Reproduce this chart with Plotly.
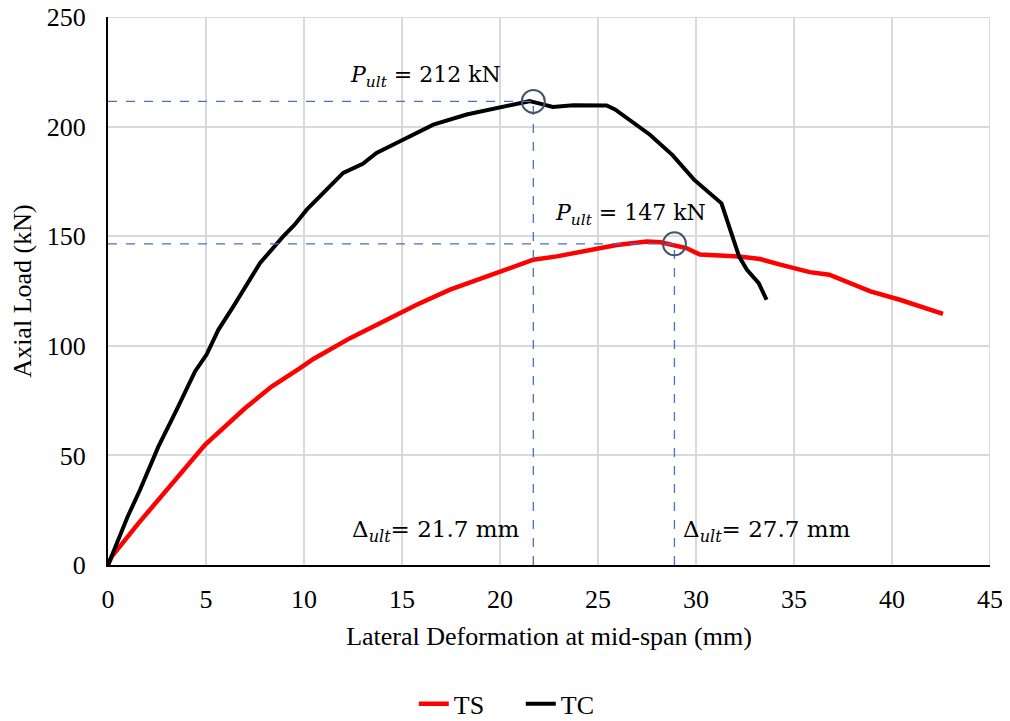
import plotly.graph_objects as go

# TS (red) curve
ts_x = [0, 0.19, 1.55, 3.25, 4.95, 6.99, 8.35, 9.8, 10.48, 12.35, 14.05, 14.9, 15.75, 17.45, 20, 21.7,
        22.9, 24.25, 25.95, 27.5, 28.2, 29.5, 30.2, 32.2, 33.27, 34.3, 35.8, 36.8, 38.9, 40.4, 42.6]
ts_y = [0, 3.8, 19, 37.3, 54.8, 71.5, 81.4, 89.8, 94, 103.5, 111, 115, 118.7, 125.6, 134, 139.3,
        140.8, 143, 146, 147.6, 147.2, 144.6, 141.6, 140.7, 139.6, 137, 133.6, 132.4, 124.8, 121, 114.6]

# TC (black) curve
tc_x = [0, 0.4, 1.0, 1.63, 2.57, 3.5, 4.44, 5.03, 5.63, 6.39, 7.0, 7.76, 8.94, 9.5, 10.14, 10.99, 12.0,
        13.0, 13.7, 14.9, 15.75, 16.6, 18.3, 20, 21.0, 21.5, 22.04, 22.7, 23.74, 25.44, 25.87, 26.46,
        27.14, 27.65, 28.8, 29.9, 31.3, 31.7, 32.2, 32.6, 33.2, 33.6]
tc_y = [0, 9, 22, 34.2, 54, 70.8, 88.3, 96, 107.3, 117.9, 127, 137.8, 149.9, 155, 162.1, 169.7, 178.9,
        183, 188, 193.3, 197.1, 200.9, 205.5, 208.5, 210.5, 211.6, 210.5, 209, 209.7, 209.6, 207.8, 203.9,
        199.4, 196.3, 187, 175.8, 165, 154, 140.7, 134.7, 128.6, 121]

# Ultimate points (marker positions) and labels
peak_x = [21.7, 28.9]
peak_y = [211.5, 146.5]
p_labels = ["212 kN", "147 kN"]
d_labels = ["21.7 mm", "27.7 mm"]

x_ticks = [0, 5, 10, 15, 20, 25, 30, 35, 40, 45]
y_ticks = [0, 50, 100, 150, 200, 250]
x_range = [0, 45]
y_range = [0, 250]

FONT = "Liberation Serif, Times New Roman, serif"
MFONT = "DejaVu Serif, serif"
GRID = "#D9D9D9"

fig = go.Figure()
fig.add_trace(go.Scatter(x=ts_x, y=ts_y, mode="lines", name="TS",
                         line=dict(color="#FF0000", width=4.5)))
fig.add_trace(go.Scatter(x=tc_x, y=tc_y, mode="lines", name="TC",
                         line=dict(color="#000000", width=4)))

shapes = [
    # edge gridlines (top and right) which plotly omits at range boundaries
    dict(type="line", xref="x", yref="y", x0=x_range[0], x1=x_range[1], y0=y_range[1], y1=y_range[1],
         line=dict(color=GRID, width=2), layer="below"),
    dict(type="line", xref="x", yref="y", x0=x_range[1], x1=x_range[1], y0=y_range[0], y1=y_range[1],
         line=dict(color=GRID, width=2), layer="below"),
]
for px, py in zip(peak_x, peak_y):
    shapes.append(dict(type="line", xref="x", yref="y", x0=0, x1=px, y0=py, y1=py,
                       line=dict(color="#4472C4", width=1.3, dash="dash"), layer="above"))
    shapes.append(dict(type="line", xref="x", yref="y", x0=px, x1=px, y0=0, y1=py,
                       line=dict(color="#4472C4", width=1.3, dash="dash"), layer="above"))
    shapes.append(dict(type="circle", xref="x", yref="y", xsizemode="pixel", ysizemode="pixel",
                       xanchor=px, yanchor=py, x0=-11.5, x1=11.5, y0=-11.5, y1=11.5,
                       line=dict(color="#44546A", width=2), fillcolor="rgba(0,0,0,0)", layer="above"))

def p_text(v):
    return "<i>P</i><sub><i>ult</i></sub>&nbsp;=&nbsp;" + v

def d_text(v):
    return "Δ<sub><i>ult</i></sub>=&nbsp;" + v

annotations = [
    dict(x=20.15, y=222.8, xref="x", yref="y", xanchor="right", yanchor="middle", showarrow=False,
         text=p_text(p_labels[0]), font=dict(family=MFONT, size=22, color="black")),
    dict(x=30.6, y=159.8, xref="x", yref="y", xanchor="right", yanchor="middle", showarrow=False,
         text=p_text(p_labels[1]), font=dict(family=MFONT, size=22, color="black")),
    dict(x=12.35, y=15.5, xref="x", yref="y", xanchor="left", yanchor="middle", showarrow=False,
         text=d_text(d_labels[0]), font=dict(family=MFONT, size=23, color="black")),
    dict(x=29.23, y=15.5, xref="x", yref="y", xanchor="left", yanchor="middle", showarrow=False,
         text=d_text(d_labels[1]), font=dict(family=MFONT, size=23, color="black")),
]

fig.update_layout(
    width=1002, height=713,
    margin=dict(l=100, r=20, t=9, b=156),
    plot_bgcolor="white", paper_bgcolor="white",
    font=dict(family=FONT, size=26, color="black"),
    shapes=shapes, annotations=annotations,
    showlegend=True,
    legend=dict(orientation="h", x=0.468, xanchor="center", xref="paper",
                y=0.024, yanchor="middle", yref="container", entrywidth=62,
                font=dict(family=FONT, size=26), bgcolor="rgba(0,0,0,0)"),
    xaxis=dict(range=x_range, tickvals=x_ticks, showgrid=True, gridcolor=GRID, gridwidth=2,
               zeroline=False, showline=True, linecolor="black", linewidth=2, ticks="",
               ticklabelstandoff=10, automargin=False, ticklabeloverflow="allow",
               tickfont=dict(family=FONT, size=26),
               title=dict(text="Lateral Deformation at mid-span (mm)", standoff=14,
                          font=dict(family=FONT, size=26))),
    yaxis=dict(range=y_range, tickvals=y_ticks, showgrid=True, gridcolor=GRID, gridwidth=2,
               zeroline=False, showline=True, linecolor="black", linewidth=2, ticks="",
               ticklabelstandoff=15, automargin=False, ticklabeloverflow="allow",
               tickfont=dict(family=FONT, size=26),
               title=dict(text="Axial Load (kN)", standoff=8, font=dict(family=FONT, size=26))),
)

fig.write_html("out.html")
